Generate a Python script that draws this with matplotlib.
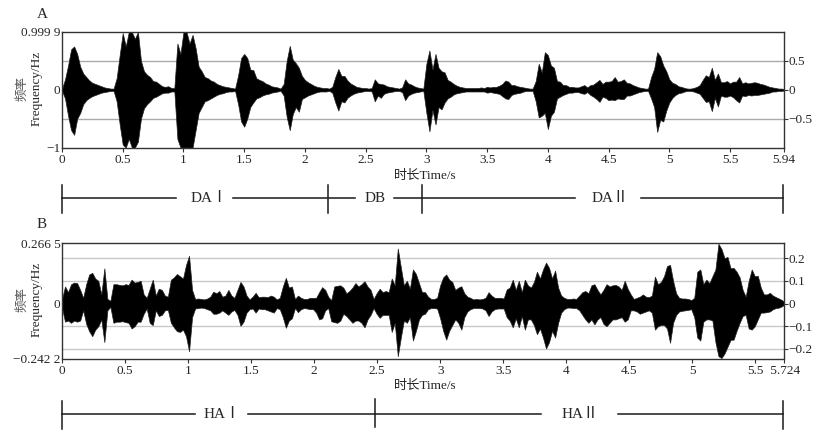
import numpy as np
import matplotlib
matplotlib.use("Agg")
import matplotlib.pyplot as plt

FONT = ["Liberation Serif", "Noto Sans CJK SC", "DejaVu Sans"]
plt.rcParams["font.family"] = FONT
plt.rcParams["font.size"] = 9.5
W, H = 824, 441
TXT = "#262626"

# Panel A envelope, one value every 0.025 s, unit 0.01
A_STEP = 0.025
a_up = [2, 18, 42, 70, 75, 62, 40, 28, 22, 16, 12, 10, 8, 6, 4, 3, 2, 2, 20, 60,
        98, 75, 100, 100, 88, 100, 50, 32, 26, 22, 15, 14, 10, 6, 5, 6, 3, 3, 80, 62,
        100, 100, 80, 95, 72, 40, 32, 22, 20, 16, 14, 10, 8, 6, 5, 4, 3, 2, 25, 55,
        62, 55, 35, 34, 20, 17, 15, 11, 9, 6, 5, 4, 2, 10, 50, 76, 52, 46, 38, 24,
        17, 13, 10, 7, 5, 4, 3, 3, 2, 5, 22, 36, 24, 24, 16, 11, 8, 5, 4, 3,
        3, 2, 3, 18, 11, 10, 9, 6, 5, 4, 3, 2, 4, 18, 11, 9, 6, 4, 3, 2,
        45, 68, 35, 62, 38, 32, 30, 17, 14, 10, 7, 5, 4, 3, 3, 3, 3, 3, 4, 3,
        5, 4, 5, 5, 7, 10, 16, 14, 8, 8, 6, 5, 4, 3, 2, 2, 15, 45, 30, 65,
        60, 42, 38, 15, 14, 8, 8, 5, 5, 4, 4, 6, 8, 4, 8, 9, 13, 17, 10, 14,
        14, 15, 22, 14, 15, 18, 12, 11, 8, 6, 4, 3, 2, 2, 22, 36, 65, 58, 42, 32,
        18, 12, 10, 6, 5, 3, 2, 2, 3, 5, 8, 17, 25, 22, 38, 17, 28, 13, 13, 15,
        11, 14, 14, 22, 11, 13, 11, 12, 13, 12, 10, 9, 7, 5, 4, 3, 2, 2, 1]
a_low = [2, 15, 45, 70, 78, 50, 40, 25, 18, 14, 11, 9, 7, 5, 4, 3, 2, 2, 20, 60,
         95, 100, 85, 100, 100, 90, 50, 32, 25, 20, 14, 12, 9, 6, 5, 5, 3, 3, 85, 100,
         100, 100, 100, 100, 70, 40, 30, 20, 18, 15, 12, 9, 7, 6, 4, 3, 3, 2, 25, 55,
         64, 50, 30, 22, 15, 13, 10, 8, 7, 5, 4, 3, 2, 10, 47, 70, 42, 30, 38, 16,
         13, 10, 8, 6, 4, 3, 3, 3, 2, 5, 22, 36, 20, 22, 14, 10, 7, 5, 4, 3,
         2, 2, 3, 20, 10, 14, 7, 5, 4, 3, 2, 2, 4, 18, 10, 7, 5, 4, 3, 2,
         40, 72, 35, 60, 30, 34, 22, 15, 12, 8, 6, 5, 4, 3, 3, 3, 3, 3, 3, 3,
         5, 4, 5, 6, 7, 11, 15, 16, 9, 7, 6, 5, 3, 2, 2, 2, 20, 48, 45, 40,
         68, 45, 38, 15, 12, 9, 7, 5, 5, 4, 4, 6, 7, 4, 9, 12, 16, 21, 12, 14,
         18, 17, 18, 15, 16, 16, 10, 10, 8, 6, 4, 3, 2, 2, 15, 30, 73, 52, 55, 36,
         22, 14, 9, 6, 5, 3, 2, 2, 3, 5, 7, 14, 21, 20, 37, 14, 29, 10, 12, 12,
         10, 13, 18, 22, 10, 11, 9, 10, 9, 9, 8, 7, 6, 5, 3, 3, 2, 2, 1]

# Panel B envelope, one value every 0.024 s, unit 0.001
B_STEP = 0.024
b_up = [20, 75, 50, 85, 92, 90, 60, 25, 85, 128, 135, 110, 100, 40, 155, 20, 12, 85, 85, 82,
        80, 85, 82, 105, 92, 95, 100, 40, 25, 65, 105, 35, 65, 60, 35, 30, 105, 115, 130, 120,
        110, 170, 210, 60, 20, 22, 20, 18, 22, 30, 52, 45, 55, 30, 35, 60, 35, 25, 60, 95,
        75, 35, 18, 30, 47, 28, 30, 30, 28, 35, 30, 18, 25, 75, 113, 70, 75, 20, 35, 25,
        20, 20, 25, 25, 25, 50, 72, 60, 30, 15, 75, 78, 80, 70, 45, 55, 70, 90, 75, 85,
        98, 75, 60, 20, 45, 65, 50, 55, 50, 110, 80, 242, 160, 80, 100, 65, 150, 130, 90, 50,
        50, 30, 20, 20, 25, 80, 115, 128, 105, 95, 60, 70, 76, 45, 30, 25, 18, 20, 18, 20,
        25, 50, 35, 25, 25, 25, 22, 62, 70, 105, 60, 100, 50, 105, 80, 70, 95, 140, 110, 150,
        180, 157, 110, 145, 70, 35, 25, 20, 20, 22, 20, 35, 50, 55, 45, 80, 85, 60, 40, 60,
        85, 75, 80, 82, 75, 60, 100, 65, 40, 20, 25, 30, 40, 30, 28, 35, 118, 85, 95, 120,
        165, 170, 100, 45, 25, 22, 22, 20, 15, 25, 140, 150, 85, 105, 90, 120, 150, 263, 240, 200,
        205, 155, 157, 140, 115, 60, 30, 100, 150, 120, 122, 70, 40, 40, 47, 35, 28, 22, 15, 3]
b_low = [20, 80, 75, 85, 75, 80, 75, 30, 90, 122, 144, 115, 100, 70, 170, 30, 15, 85, 80, 80,
         78, 82, 85, 110, 100, 80, 80, 45, 22, 85, 95, 30, 55, 50, 30, 28, 85, 105, 122, 125,
         115, 144, 210, 60, 22, 20, 18, 20, 25, 30, 45, 45, 40, 30, 40, 50, 35, 28, 50, 98,
         80, 40, 25, 22, 40, 22, 25, 25, 30, 35, 40, 20, 25, 60, 107, 75, 65, 20, 38, 25,
         20, 22, 25, 25, 40, 70, 65, 30, 20, 78, 82, 85, 75, 45, 55, 70, 85, 75, 75, 85,
         105, 70, 50, 20, 45, 63, 50, 50, 50, 125, 85, 232, 150, 75, 85, 60, 163, 120, 70, 50,
         45, 25, 20, 20, 22, 65, 120, 159, 120, 95, 70, 85, 115, 60, 35, 25, 20, 20, 20, 22,
         30, 55, 35, 25, 22, 22, 22, 60, 75, 105, 65, 105, 55, 115, 70, 70, 95, 135, 110, 150,
         198, 170, 120, 150, 85, 40, 25, 18, 18, 20, 20, 30, 50, 70, 85, 70, 92, 70, 60, 90,
         100, 85, 70, 70, 65, 60, 80, 70, 30, 30, 35, 45, 40, 35, 30, 40, 115, 100, 95, 95,
         110, 173, 85, 50, 35, 32, 30, 28, 25, 60, 150, 163, 80, 70, 70, 75, 170, 232, 240, 220,
         190, 160, 159, 120, 85, 55, 50, 110, 115, 100, 70, 40, 40, 38, 35, 25, 20, 18, 12, 3]

a_xticks = [0, .5, 1, 1.5, 2, 2.5, 3, 3.5, 4, 4.5, 5, 5.5, 5.94]
a_xlabels = ["0", "0.5", "1", "1.5", "2", "2.5", "3", "3.5", "4", "4.5", "5", "5.5", "5.94"]
b_xticks = [0, .5, 1, 1.5, 2, 2.5, 3, 3.5, 4, 4.5, 5, 5.5, 5.724]
b_xlabels = ["0", "0.5", "1", "1.5", "2", "2.5", "3", "3.5", "4", "4.5", "5", "5.5", " 5.724"]
a_left = [-1, 0, .9999]
a_left_labels = ["\u22121", "0", "0.999 9"]
b_left = [-.2422, 0, .2665]
b_left_labels = ["\u22120.242 2", "0", "0.266 5"]
a_right = [-.5, 0, .5]
a_right_labels = ["\u22120.5", "0", "0.5"]
b_right = [-.2, -.1, 0, .1, .2]
b_right_labels = ["\u22120.2", "\u22120.1", "0", "0.1", "0.2"]

fig = plt.figure(figsize=(W / 100, H / 100), dpi=100)


def panel(top, bottom, xmax, ylims, step, unit, up, low, xt, xl, yl, yll, yr, yrl, letter, grid_col):
    ax = fig.add_axes([62 / W, 1 - bottom / H, (783.5 - 62) / W, (bottom - top) / H])
    ax.set_xlim(0, xmax)
    ax.set_ylim(*ylims)
    for v in yr:
        if v != 0:
            ax.axhline(v, color=grid_col, lw=1, zorder=1)
    t = np.arange(len(up)) * step
    ax.fill_between(t, np.array(up) * unit, -np.array(low) * unit, facecolor="black",
                    edgecolor="#222222", lw=0.5, zorder=2)
    ax.set_xticks(xt)
    ax.set_xticklabels(xl, color=TXT)
    ax.set_yticks(yl)
    ax.set_yticklabels(yll, color=TXT)
    ax.tick_params(axis="x", length=3, width=0.8, pad=2, color="#333333")
    ax.tick_params(axis="y", length=0, pad=1)
    for s in ax.spines.values():
        s.set_color("#333333")
        s.set_linewidth(1)
        s.set_zorder(3)
    ax2 = ax.twinx()
    ax2.set_ylim(*ylims)
    ax2.set_yticks(yr)
    ax2.set_yticklabels(yrl, color=TXT)
    ax2.tick_params(axis="y", length=3, width=0.8, pad=0.3, color="#333333")
    for s in ax2.spines.values():
        s.set_visible(False)
    mid = (top + bottom) / 2
    fig.text(37 / W, 1 - (mid - 1) / H, "Frequency/Hz", rotation=90, ha="center", va="center", color=TXT)
    fig.text(22 / W, 1 - (mid - 1) / H, "频率", rotation=90, ha="center", va="center", color="#555555", fontsize=9)
    fig.text(425 / W, 1 - (bottom + 28) / H, "时长Time/s", ha="center", va="center", color=TXT)
    fig.text(42 / W, 1 - (top - 18) / H, letter, ha="center", va="center", fontsize=11, color=TXT)
    return ax


panel(32, 147.5, 5.94, (-1, .9999), A_STEP, 0.01, a_up, a_low, a_xticks, a_xlabels,
      a_left, a_left_labels, a_right, a_right_labels, "A", "#ababab")
panel(243, 358.5, 5.724, (-.2422, .2665), B_STEP, 0.001, b_up, b_low, b_xticks, b_xlabels,
      b_left, b_left_labels, b_right, b_right_labels, "B", "#c8c8c8")

# section brackets drawn in pixel coordinates on a full-figure overlay
ov = fig.add_axes([0, 0, 1, 1], facecolor="none")
ov.set_xlim(0, W)
ov.set_ylim(H, 0)
ov.axis("off")
a_seg = [(62, 176), (233, 355), (394, 575), (641, 783)]
a_marks = [(62, 185, 213), (328, 185, 213), (422, 185, 213), (783, 185, 213)]
a_names = [("DAⅠ", 209), ("DB", 375), ("DAⅡ", 610)]
b_seg = [(62, 195), (248, 541), (618, 783)]
b_marks = [(62, 401, 429), (375, 399, 427), (783, 401, 429)]
b_names = [("HAⅠ", 222), ("HAⅡ", 580)]
for y, seg, marks, names in [(198, a_seg, a_marks, a_names), (414, b_seg, b_marks, b_names)]:
    for x0, x1 in seg:
        ov.plot([x0, x1], [y, y], color="#1a1a1a", lw=1.1)
    for x, y0, y1 in marks:
        ov.plot([x, x], [y0, y1], color="#1a1a1a", lw=1.1)
    for name, x in names:
        ov.text(x, y, name, ha="center", va="center", fontsize=11, color=TXT)

fig.savefig("out.png", dpi=100)
